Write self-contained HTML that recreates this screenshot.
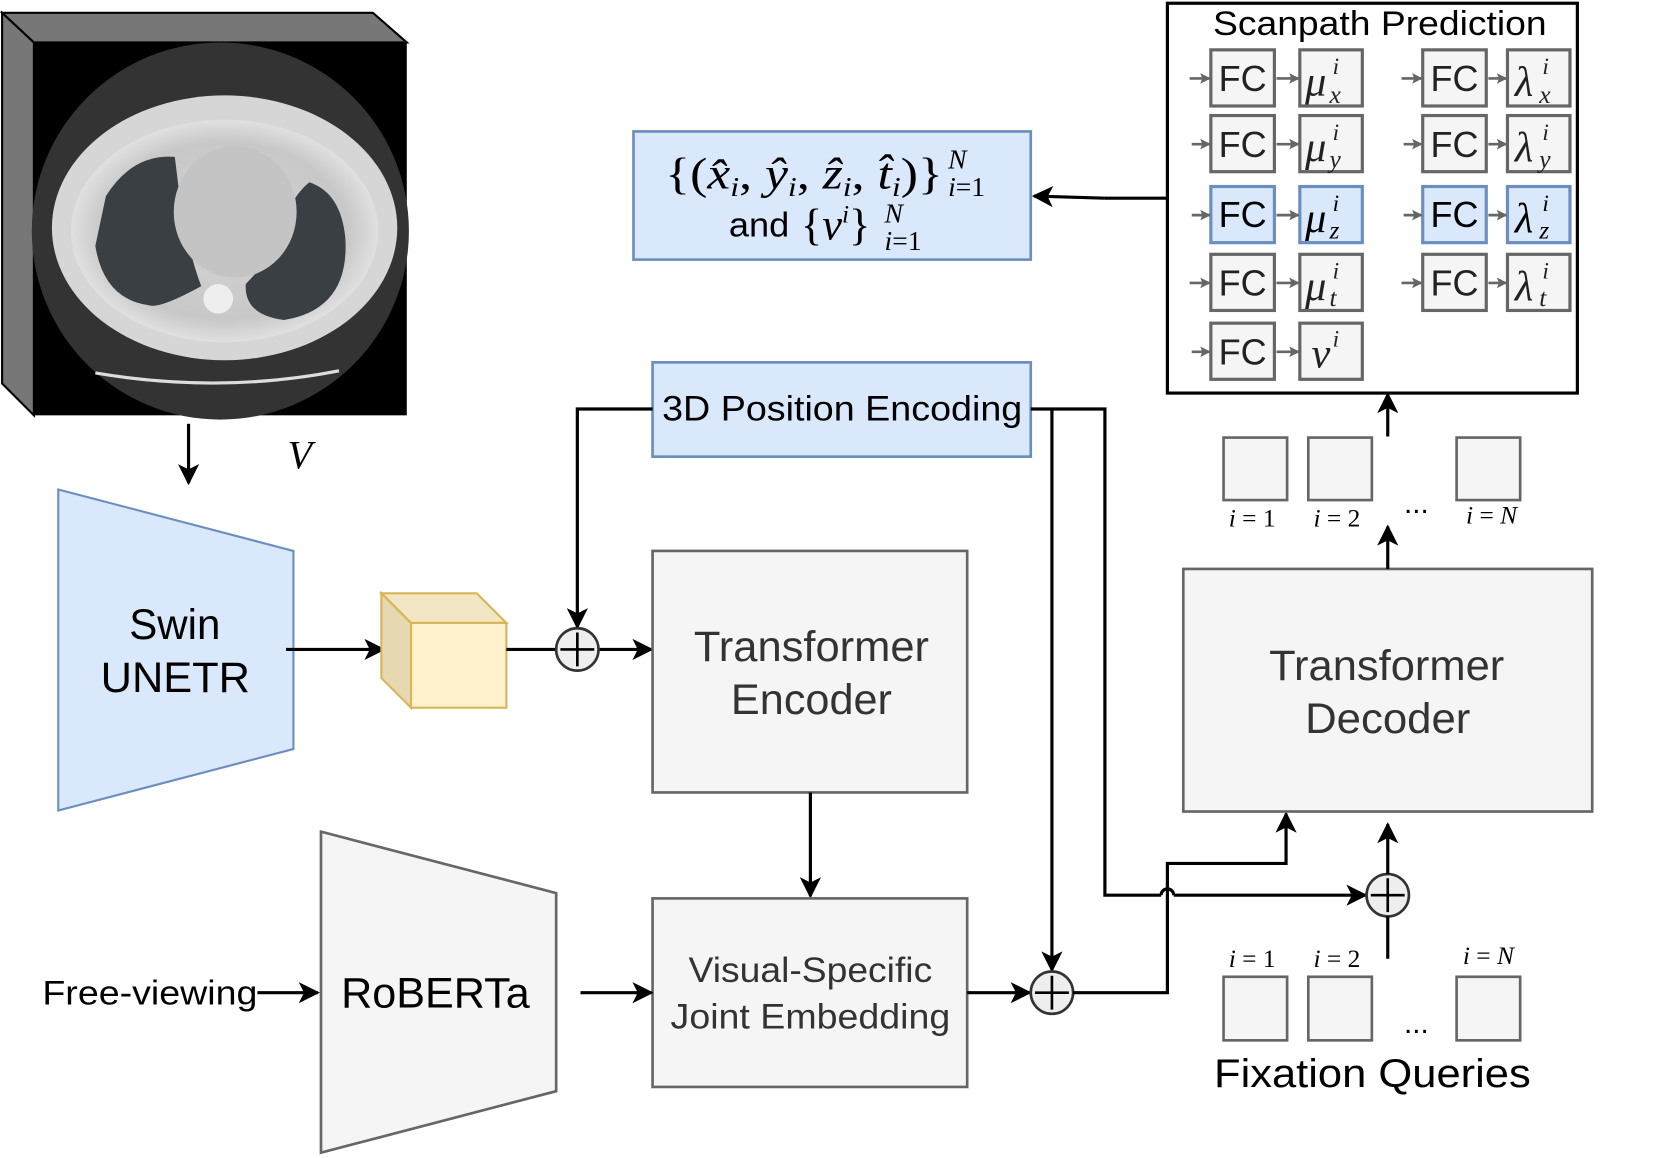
<!DOCTYPE html>
<html><head><meta charset="utf-8"><style>
html,body{margin:0;padding:0;background:#fff;width:1660px;height:1158px;overflow:hidden}
svg{display:block}
.s{font-family:"Liberation Sans",sans-serif}
.m{font-family:"Liberation Serif",serif;font-style:italic}
.r{font-family:"Liberation Serif",serif}
</style></head><body>
<svg width="1660" height="1158" viewBox="0 0 1567 1093" xmlns="http://www.w3.org/2000/svg">
<defs>
<marker id="a" viewBox="0 0 20 20" refX="18" refY="10" markerWidth="20" markerHeight="20" markerUnits="userSpaceOnUse" orient="auto"><path d="M0,0 L20,10 L0,20 L5,10 Z" fill="#000"/></marker>
<marker id="g" viewBox="0 0 10 10" refX="9" refY="5" markerWidth="10" markerHeight="10" markerUnits="userSpaceOnUse" orient="auto"><path d="M0,0 L10,5 L0,10 L2,5 Z" fill="#666"/></marker>
<radialGradient id="ct" cx="50%" cy="50%" r="50%"><stop offset="0" stop-color="#d4d4d4"/><stop offset="0.8" stop-color="#c8c8c8"/><stop offset="1" stop-color="#e0e0e0"/></radialGradient>
</defs>

<!-- CT volume -->
<polygon points="2,12 32,40 32,392 2,362" fill="#777" stroke="#000" stroke-width="2"/>
<polygon points="2,12 352,12 384,40 32,40" fill="#777" stroke="#000" stroke-width="2"/>
<rect x="32" y="40" width="352" height="352" fill="#000"/>
<circle cx="208" cy="218" r="178" fill="#333"/>
<ellipse cx="212" cy="215" rx="163" ry="125" fill="#d6d6d6"/>
<ellipse cx="212" cy="218" rx="145" ry="105" fill="url(#ct)"/>
<path d="M100,185 Q125,145 165,148 L172,205 Q182,250 190,270 Q150,292 140,288 Q98,282 90,232 Z" fill="#3a3f44"/>
<path d="M292,172 Q322,182 326,225 Q330,292 268,302 Q230,297 232,268 Q250,250 260,230 Q272,188 292,172 Z" fill="#3a3f44"/>
<ellipse cx="222" cy="200" rx="58" ry="62" fill="#c4c4c4"/>
<circle cx="206" cy="282" r="14" fill="#eee"/>
<path d="M90,352 Q208,372 320,350" stroke="#ddd" stroke-width="3" fill="none"/>

<!-- V arrow -->
<line x1="178" y1="400" x2="178" y2="456" stroke="#000" stroke-width="3" marker-end="url(#a)"/>
<text x="283" y="442" class="m" font-size="38" text-anchor="middle">V</text>

<!-- Swin -->
<polygon points="55,462 277,520 277,707 55,765" fill="#dae8fc" stroke="#6c8ebf" stroke-width="2"/>
<text x="122" y="603" class="s" font-size="40" textLength="86" lengthAdjust="spacingAndGlyphs">Swin</text>
<text x="95" y="653" class="s" font-size="40" textLength="141" lengthAdjust="spacingAndGlyphs">UNETR</text>
<line x1="270" y1="613" x2="362" y2="613" stroke="#000" stroke-width="3" marker-end="url(#a)"/>

<!-- cube -->
<polygon points="360,560 450,560 478,588 388,588" fill="#f2e6c4" stroke="#d6b656" stroke-width="2"/>
<polygon points="360,560 388,588 388,668 360,640" fill="#e6d8b0" stroke="#d6b656" stroke-width="2"/>
<rect x="388" y="588" width="90" height="80" fill="#fff2cc" stroke="#d6b656" stroke-width="2"/>
<line x1="478" y1="613" x2="525" y2="613" stroke="#000" stroke-width="3"/>
<line x1="565" y1="613" x2="615" y2="613" stroke="#000" stroke-width="3" marker-end="url(#a)"/>

<!-- 3D PE -->
<rect x="616" y="342" width="357" height="89" fill="#dae8fc" stroke="#6c8ebf" stroke-width="2.5"/>
<text x="625" y="397" class="s" font-size="33" textLength="340" lengthAdjust="spacingAndGlyphs">3D Position Encoding</text>
<polyline points="616,386 545,386 545,592" fill="none" stroke="#000" stroke-width="3" marker-end="url(#a)"/>
<circle cx="545" cy="613" r="20" fill="#eee" stroke="#333" stroke-width="2.5"/>
<path d="M529,613 H561 M545,597 V629" stroke="#000" stroke-width="2.5"/>

<polyline points="973,386 1043,386 1043,845 1096,845" fill="none" stroke="#000" stroke-width="3"/>
<path d="M1096,845 A6,6 0 0 1 1108,845" fill="none" stroke="#000" stroke-width="3"/>
<line x1="1108" y1="845" x2="1289" y2="845" stroke="#000" stroke-width="3" marker-end="url(#a)"/>
<line x1="993" y1="386" x2="993" y2="916" stroke="#000" stroke-width="3" marker-end="url(#a)"/>

<!-- Transformer Encoder -->
<rect x="616" y="520" width="297" height="228" fill="#f5f5f5" stroke="#666" stroke-width="2.5"/>
<text x="655" y="624" class="s" font-size="40" fill="#333" textLength="222" lengthAdjust="spacingAndGlyphs">Transformer</text>
<text x="690" y="674" class="s" font-size="40" fill="#333" textLength="152" lengthAdjust="spacingAndGlyphs">Encoder</text>
<line x1="765" y1="748" x2="765" y2="846" stroke="#000" stroke-width="3" marker-end="url(#a)"/>

<!-- VSJE -->
<rect x="616" y="848" width="297" height="178" fill="#f5f5f5" stroke="#666" stroke-width="2.5"/>
<text x="650" y="927" class="s" font-size="33" fill="#333" textLength="230" lengthAdjust="spacingAndGlyphs">Visual-Specific</text>
<text x="633" y="971" class="s" font-size="33" fill="#333" textLength="264" lengthAdjust="spacingAndGlyphs">Joint Embedding</text>

<!-- RoBERTa -->
<polygon points="303,785 525,843 525,1030 303,1088" fill="#f5f5f5" stroke="#666" stroke-width="2.5"/>
<text x="322" y="951" class="s" font-size="40" textLength="178" lengthAdjust="spacingAndGlyphs">RoBERTa</text>
<text x="40" y="948" class="s" font-size="32" textLength="203" lengthAdjust="spacingAndGlyphs">Free-viewing</text>
<line x1="243" y1="937" x2="300" y2="937" stroke="#000" stroke-width="3" marker-end="url(#a)"/>
<line x1="548" y1="937" x2="615" y2="937" stroke="#000" stroke-width="3" marker-end="url(#a)"/>
<line x1="913" y1="937" x2="972" y2="937" stroke="#000" stroke-width="3" marker-end="url(#a)"/>
<circle cx="993" cy="937" r="20" fill="#eee" stroke="#333" stroke-width="2.5"/>
<path d="M977,937 H1009 M993,921 V953" stroke="#000" stroke-width="2.5"/>
<polyline points="1013,937 1102,937 1102,815 1214,815 1214,768" fill="none" stroke="#000" stroke-width="3" marker-end="url(#a)"/>

<!-- Decoder -->
<rect x="1117" y="537" width="386" height="229" fill="#f5f5f5" stroke="#666" stroke-width="2.5"/>
<text x="1198" y="642" class="s" font-size="40" fill="#333" textLength="222" lengthAdjust="spacingAndGlyphs">Transformer</text>
<text x="1232" y="692" class="s" font-size="40" fill="#333" textLength="156" lengthAdjust="spacingAndGlyphs">Decoder</text>
<circle cx="1310" cy="845" r="20" fill="#eee" stroke="#333" stroke-width="2.5"/>
<path d="M1294,845 H1326 M1310,829 V861" stroke="#000" stroke-width="2.5"/>
<line x1="1310" y1="905" x2="1310" y2="865" stroke="#000" stroke-width="3"/>
<line x1="1310" y1="825" x2="1310" y2="778" stroke="#000" stroke-width="3" marker-end="url(#a)"/>

<!-- fixation queries -->
<g fill="#f5f5f5" stroke="#666" stroke-width="2.5">
<rect x="1155" y="922" width="60" height="60"/><rect x="1235" y="922" width="60" height="60"/><rect x="1375" y="922" width="60" height="60"/>
<rect x="1155" y="413" width="60" height="59"/><rect x="1235" y="413" width="60" height="59"/><rect x="1375" y="413" width="60" height="59"/>
</g>
<g class="r" font-size="24" text-anchor="middle">
<text x="1182" y="913"><tspan font-style="italic">i</tspan> = 1</text>
<text x="1262" y="913"><tspan font-style="italic">i</tspan> = 2</text>
<text x="1405" y="910"><tspan font-style="italic">i</tspan> = <tspan font-style="italic">N</tspan></text>
<text x="1182" y="497"><tspan font-style="italic">i</tspan> = 1</text>
<text x="1262" y="497"><tspan font-style="italic">i</tspan> = 2</text>
<text x="1408" y="494"><tspan font-style="italic">i</tspan> = <tspan font-style="italic">N</tspan></text>
</g>
<text x="1337" y="975" class="s" font-size="28" text-anchor="middle">...</text>
<text x="1337" y="484" class="s" font-size="28" text-anchor="middle">...</text>
<text x="1146" y="1026" class="s" font-size="38" textLength="299" lengthAdjust="spacingAndGlyphs">Fixation Queries</text>
<line x1="1310" y1="537" x2="1310" y2="497" stroke="#000" stroke-width="3" marker-end="url(#a)"/>
<line x1="1310" y1="412" x2="1310" y2="372" stroke="#000" stroke-width="3" marker-end="url(#a)"/>

<!-- Scanpath -->
<rect x="1102" y="3" width="387" height="368" fill="#fff" stroke="#000" stroke-width="3"/>
<text x="1145" y="33" class="s" font-size="32" textLength="315" lengthAdjust="spacingAndGlyphs">Scanpath Prediction</text>
<g stroke-width="3">
<rect x="1143" y="47" width="60" height="53" fill="#f5f5f5" stroke="#666"/><rect x="1227" y="47" width="59" height="53" fill="#f5f5f5" stroke="#666"/>
<rect x="1343" y="47" width="60" height="53" fill="#f5f5f5" stroke="#666"/><rect x="1423" y="47" width="59" height="53" fill="#f5f5f5" stroke="#666"/>
<rect x="1143" y="109" width="60" height="53" fill="#f5f5f5" stroke="#666"/><rect x="1227" y="109" width="59" height="53" fill="#f5f5f5" stroke="#666"/>
<rect x="1343" y="109" width="60" height="53" fill="#f5f5f5" stroke="#666"/><rect x="1423" y="109" width="59" height="53" fill="#f5f5f5" stroke="#666"/>
<rect x="1143" y="176" width="60" height="53" fill="#dae8fc" stroke="#6c8ebf"/><rect x="1227" y="176" width="59" height="53" fill="#dae8fc" stroke="#6c8ebf"/>
<rect x="1343" y="176" width="60" height="53" fill="#dae8fc" stroke="#6c8ebf"/><rect x="1423" y="176" width="59" height="53" fill="#dae8fc" stroke="#6c8ebf"/>
<rect x="1143" y="240" width="60" height="53" fill="#f5f5f5" stroke="#666"/><rect x="1227" y="240" width="59" height="53" fill="#f5f5f5" stroke="#666"/>
<rect x="1343" y="240" width="60" height="53" fill="#f5f5f5" stroke="#666"/><rect x="1423" y="240" width="59" height="53" fill="#f5f5f5" stroke="#666"/>
<rect x="1143" y="305" width="60" height="53" fill="#f5f5f5" stroke="#666"/><rect x="1227" y="305" width="59" height="53" fill="#f5f5f5" stroke="#666"/>
</g>
<g stroke="#666" stroke-width="2.5" marker-end="url(#g)">
<line x1="1123" y1="74" x2="1142" y2="74"/><line x1="1205" y1="74" x2="1226" y2="74"/><line x1="1323" y1="74" x2="1342" y2="74"/><line x1="1405" y1="74" x2="1422" y2="74"/>
<line x1="1125" y1="136" x2="1142" y2="136"/><line x1="1205" y1="136" x2="1226" y2="136"/><line x1="1325" y1="136" x2="1342" y2="136"/><line x1="1405" y1="136" x2="1422" y2="136"/>
<line x1="1125" y1="203" x2="1142" y2="203"/><line x1="1205" y1="203" x2="1226" y2="203"/><line x1="1325" y1="203" x2="1342" y2="203"/><line x1="1405" y1="203" x2="1422" y2="203"/>
<line x1="1123" y1="267" x2="1142" y2="267"/><line x1="1205" y1="267" x2="1226" y2="267"/><line x1="1323" y1="267" x2="1342" y2="267"/><line x1="1405" y1="267" x2="1422" y2="267"/>
<line x1="1125" y1="332" x2="1142" y2="332"/><line x1="1205" y1="332" x2="1226" y2="332"/>
</g>
<g class="s" font-size="34" fill="#000" text-anchor="middle">
<text x="1173" y="86" fill="#222">FC</text><text x="1373" y="86" fill="#222">FC</text>
<text x="1173" y="148" fill="#222">FC</text><text x="1373" y="148" fill="#222">FC</text>
<text x="1173" y="214">FC</text><text x="1373" y="214">FC</text>
<text x="1173" y="279" fill="#222">FC</text><text x="1373" y="279" fill="#222">FC</text>
<text x="1173" y="344" fill="#222">FC</text>
</g>
<g class="m" fill="#222">
<text x="1232" y="90" font-size="40">μ</text><text x="1258" y="70" font-size="22">i</text><text x="1255" y="97" font-size="24">x</text>
<text x="1232" y="152" font-size="40">μ</text><text x="1258" y="132" font-size="22">i</text><text x="1255" y="158" font-size="24">y</text>
<text x="1232" y="219" font-size="40" fill="#000">μ</text><text x="1258" y="199" font-size="22" fill="#000">i</text><text x="1255" y="225" font-size="24" fill="#000">z</text>
<text x="1232" y="283" font-size="40">μ</text><text x="1258" y="263" font-size="22">i</text><text x="1255" y="289" font-size="24">t</text>
<text x="1238" y="347" font-size="40">v</text><text x="1258" y="327" font-size="22">i</text>
<text x="1430" y="90" font-size="40">λ</text><text x="1456" y="70" font-size="22">i</text><text x="1453" y="97" font-size="24">x</text>
<text x="1430" y="152" font-size="40">λ</text><text x="1456" y="132" font-size="22">i</text><text x="1453" y="158" font-size="24">y</text>
<text x="1430" y="219" font-size="40" fill="#000">λ</text><text x="1456" y="199" font-size="22" fill="#000">i</text><text x="1453" y="225" font-size="24" fill="#000">z</text>
<text x="1430" y="283" font-size="40">λ</text><text x="1456" y="263" font-size="22">i</text><text x="1453" y="289" font-size="24">t</text>
</g>

<!-- Output box -->
<polyline points="1102,187 1043,187" fill="none" stroke="#000" stroke-width="3"/>
<line x1="1043" y1="187" x2="976" y2="185" stroke="#000" stroke-width="3" marker-end="url(#a)"/>
<rect x="598" y="124" width="375" height="121" fill="#dae8fc" stroke="#6c8ebf" stroke-width="2.5"/>
<text x="628" y="178" class="r" font-size="42" textLength="262" lengthAdjust="spacingAndGlyphs">{(<tspan font-style="italic">x̂</tspan><tspan font-style="italic" font-size="26" dy="7">i</tspan><tspan dy="-7">, </tspan><tspan font-style="italic">ŷ</tspan><tspan font-style="italic" font-size="26" dy="7">i</tspan><tspan dy="-7">, </tspan><tspan font-style="italic">ẑ</tspan><tspan font-style="italic" font-size="26" dy="7">i</tspan><tspan dy="-7">, </tspan><tspan font-style="italic">t̂</tspan><tspan font-style="italic" font-size="26" dy="7">i</tspan><tspan dy="-7">)}</tspan></text>
<text x="895" y="159" class="m" font-size="26">N</text>
<text x="895" y="185" class="r" font-size="26"><tspan font-style="italic">i</tspan>=1</text>
<text x="688" y="223" class="s" font-size="32" textLength="57" lengthAdjust="spacingAndGlyphs">and</text>
<text x="756" y="226" class="r" font-size="42">{<tspan font-style="italic">v</tspan><tspan font-style="italic" font-size="24" dy="-16">i</tspan><tspan dy="16">}</tspan></text>
<text x="835" y="210" class="m" font-size="26">N</text>
<text x="835" y="236" class="r" font-size="26"><tspan font-style="italic">i</tspan>=1</text>
</svg>
</body></html>
